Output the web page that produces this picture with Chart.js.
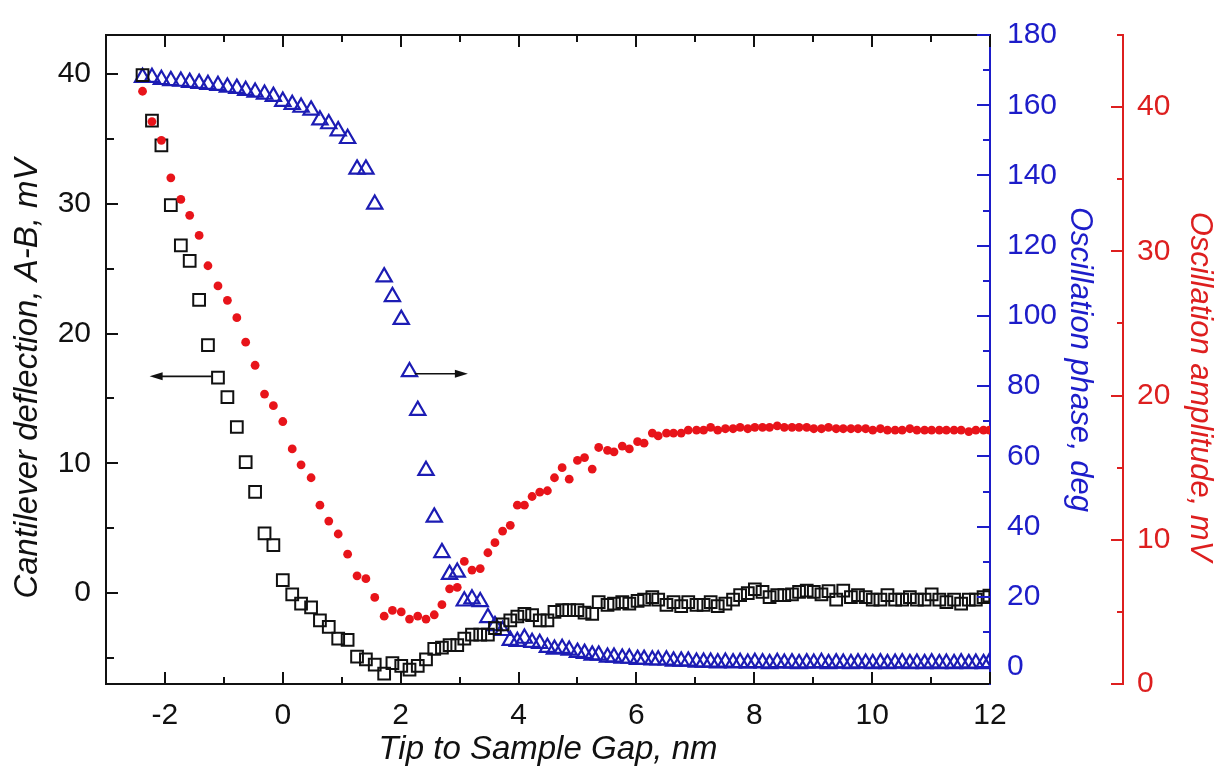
<!DOCTYPE html>
<html>
<head>
<meta charset="utf-8">
<title>Tip to sample gap</title>
<script src="https://cdn.jsdelivr.net/npm/chart.js@4.4.1/dist/chart.umd.min.js"></script>
<style>
  html, body { margin: 0; padding: 0; background: #fff; }
  #wrap { width: 1215px; height: 767px; }
</style>
</head>
<body>
<div id="wrap"><canvas id="afmChart" width="1215" height="767"></canvas></div>
<script>
// tip to sample gap, nm (shared by all three series)
const gap = [
  -2.38, -2.22, -2.06, -1.90, -1.73, -1.58, -1.42, -1.27, -1.10, -0.94,
  -0.78, -0.63, -0.47, -0.31, -0.16, 0.00, 0.16, 0.31, 0.48, 0.63,
  0.78, 0.94, 1.10, 1.26, 1.41, 1.56, 1.72, 1.86, 2.01, 2.15,
  2.29, 2.43, 2.57, 2.70, 2.83, 2.96, 3.08, 3.21, 3.35, 3.48,
  3.60, 3.73, 3.86, 3.98, 4.10, 4.23, 4.36, 4.49, 4.61, 4.74,
  4.86, 5.00, 5.12, 5.25, 5.36, 5.51, 5.62, 5.76, 5.88, 6.02,
  6.13, 6.27, 6.37, 6.51, 6.63, 6.76, 6.88, 7.02, 7.14, 7.26,
  7.38, 7.51, 7.64, 7.76, 7.89, 8.01, 8.14, 8.26, 8.39, 8.51,
  8.64, 8.76, 8.89, 9.01, 9.14, 9.26, 9.39, 9.51, 9.64, 9.76,
  9.89, 10.01, 10.14, 10.26, 10.39, 10.51, 10.64, 10.76, 10.89, 11.01,
  11.14, 11.26, 11.39, 11.51, 11.64, 11.76, 11.89, 11.99
];

// cantilever deflection A-B, mV (left axis)
const deflection = [
  39.9, 36.4, 34.5, 29.9, 26.8, 25.6, 22.6, 19.1, 16.6, 15.1,
  12.8, 10.1, 7.8, 4.6, 3.7, 1.0, -0.1, -0.8, -1.1, -2.1,
  -2.6, -3.5, -3.6, -4.9, -5.1, -5.5, -6.2, -5.4, -5.6, -5.9,
  -5.6, -5.1, -4.3, -4.2, -4.0, -4.0, -3.5, -3.2, -3.2, -3.2,
  -2.7, -2.4, -2.1, -1.8, -1.6, -1.7, -2.1, -2.1, -1.45, -1.3,
  -1.3, -1.3, -1.5, -1.6, -0.7, -0.9, -0.8, -0.7, -0.8, -0.6,
  -0.5, -0.3, -0.5, -0.9, -0.7, -1.0, -0.7, -0.9, -0.9, -0.7,
  -1.0, -0.8, -0.5, -0.15, 0.0, 0.3, 0.1, -0.3, -0.15, -0.15,
  -0.1, 0.1, 0.2, 0.1, -0.1, 0.15, -0.5, 0.2, -0.3, -0.15,
  -0.3, -0.5, -0.5, -0.15, -0.5, -0.5, -0.3, -0.5, -0.5, -0.1,
  -0.5, -0.7, -0.5, -0.8, -0.5, -0.5, -0.3, -0.2
];

// oscillation amplitude, mV (red axis)
const amplitude = [
  41.1, 39.0, 37.7, 35.1, 33.6, 32.5, 31.1, 29.0, 27.6, 26.6,
  25.4, 23.7, 22.1, 20.1, 19.3, 18.2, 16.3, 15.2, 14.3, 12.4,
  11.3, 10.4, 9.0, 7.5, 7.3, 6.0, 4.7, 5.1, 5.0, 4.5,
  4.7, 4.5, 4.8, 5.5, 6.6, 6.7, 8.5, 7.9, 8.0, 9.1,
  9.8, 10.6, 11.0, 12.4, 12.4, 13.0, 13.3, 13.4, 14.3, 15.0,
  14.2, 15.5, 15.7, 14.9, 16.4, 16.2, 16.1, 16.5, 16.3, 16.8,
  16.7, 17.4, 17.2, 17.4, 17.4, 17.4, 17.6, 17.6, 17.6, 17.8,
  17.6, 17.7, 17.7, 17.8, 17.7, 17.8, 17.8, 17.8, 17.9, 17.8,
  17.8, 17.8, 17.8, 17.7, 17.7, 17.8, 17.7, 17.7, 17.7, 17.7,
  17.7, 17.6, 17.7, 17.6, 17.6, 17.6, 17.7, 17.6, 17.6, 17.6,
  17.6, 17.6, 17.6, 17.6, 17.5, 17.6, 17.6, 17.6
];

// oscillation phase, deg (blue axis)
const phase = [
  167.9, 167.9, 167.3, 167.0, 166.8, 166.5, 166.2, 165.9, 165.6, 165.1,
  164.8, 164.2, 163.7, 163.1, 162.5, 161.1, 160.2, 159.4, 158.6, 155.8,
  154.7, 152.7, 150.5, 141.8, 141.8, 131.8, 111.1, 105.5, 99.0, 84.1,
  73.1, 56.0, 42.7, 32.6, 26.4, 27.0, 18.8, 19.4, 18.6, 14.1,
  11.8, 10.4, 7.6, 7.3, 8.2, 7.0, 6.7, 5.6, 5.1, 5.3,
  4.8, 4.2, 3.9, 3.4, 3.4, 2.8, 2.8, 2.5, 2.5, 2.2,
  2.2, 2.0, 2.0, 2.0, 1.7, 1.7, 1.7, 1.4, 1.4, 1.4,
  1.2, 1.4, 1.2, 1.3, 1.1, 1.3, 1.2, 1.0, 1.3, 1.1,
  1.2, 1.0, 1.2, 1.1, 1.3, 1.0, 1.2, 1.1, 1.0, 1.2,
  1.1, 1.0, 1.2, 1.0, 1.1, 1.2, 1.0, 1.1, 1.0, 1.2,
  1.0, 1.1, 1.0, 1.2, 1.0, 1.1, 1.0, 1.3
];

// tick labels
const xTicks = [-2, 0, 2, 4, 6, 8, 10, 12];
const deflTicks = [0, 10, 20, 30, 40];
const phaseTicks = [0, 20, 40, 60, 80, 100, 120, 140, 160, 180];
const ampTicks = [0, 10, 20, 30, 40];

// the two arrows telling which axis a curve belongs to (gap, deflection)
const arrowLines = [
  { from: [-1.21, 16.7], to: [-2.26, 16.7] },
  { from: [2.24, 16.9], to: [3.14, 16.9] }
];

const FONT = "'Liberation Sans', Arial, sans-serif";
const BLUE = "#1d1dc9";
const RED = "#dd1f1f";
const INK = "#111111";

const pts = (ys) => gap.map((x, i) => ({ x: x, y: ys[i] }));
const fixTicks = (list) => (scale) => { scale.ticks = list.map(v => ({ value: v })); };

// inward tick marks (major + minor), top frame line, arrows,
// and the two axis titles that sit a little below the axis middle
const tickMarks = {
  id: "tickMarks",
  afterDraw(chart) {
    const { ctx, chartArea: a, scales } = chart;
    ctx.save();
    ctx.lineWidth = 2;
    ctx.strokeStyle = INK;
    ctx.beginPath();
    ctx.moveTo(a.left, a.top);
    ctx.lineTo(a.right + 1, a.top);
    ctx.stroke();

    function marks(scale, list, color, draw) {
      const step = list[1] - list[0];
      const half = step / 2;
      ctx.strokeStyle = color;
      for (let v = Math.ceil(scale.min / half) * half; v <= scale.max + 1e-9; v += half) {
        const major = Math.abs(v / step - Math.round(v / step)) < 1e-6;
        const p = Math.round(scale.getPixelForValue(v));
        ctx.beginPath();
        draw(p, major);
        ctx.stroke();
      }
    }
    marks(scales.x, xTicks, INK, (p, major) => {
      const l = major ? 12 : 7;
      ctx.moveTo(p, a.bottom); ctx.lineTo(p, a.bottom - l);
      ctx.moveTo(p, a.top); ctx.lineTo(p, a.top + l);
    });
    marks(scales.y, deflTicks, INK, (p, major) => {
      ctx.moveTo(a.left, p); ctx.lineTo(a.left + (major ? 12 : 8), p);
    });
    marks(scales.yPhase, phaseTicks, BLUE, (p, major) => {
      ctx.moveTo(a.right, p); ctx.lineTo(a.right - (major ? 13 : 7), p);
    });
    const amp = scales.yAmp;
    marks(amp, ampTicks, RED, (p, major) => {
      ctx.moveTo(amp.left, p); ctx.lineTo(amp.left - (major ? 12 : 6), p);
    });

    // arrows
    ctx.strokeStyle = INK;
    ctx.fillStyle = INK;
    ctx.lineWidth = 1.6;
    arrowLines.forEach(ar => {
      const x1 = scales.x.getPixelForValue(ar.from[0]);
      const x2 = scales.x.getPixelForValue(ar.to[0]);
      const y1 = scales.y.getPixelForValue(ar.from[1]);
      const y2 = scales.y.getPixelForValue(ar.to[1]);
      const ang = Math.atan2(y2 - y1, x2 - x1);
      ctx.beginPath();
      ctx.moveTo(x1, y1);
      ctx.lineTo(x2 - 8 * Math.cos(ang), y2 - 8 * Math.sin(ang));
      ctx.stroke();
      ctx.beginPath();
      ctx.moveTo(x2, y2);
      ctx.lineTo(x2 - 13 * Math.cos(ang) + 4 * Math.sin(ang), y2 - 13 * Math.sin(ang) - 4 * Math.cos(ang));
      ctx.lineTo(x2 - 13 * Math.cos(ang) - 4 * Math.sin(ang), y2 - 13 * Math.sin(ang) + 4 * Math.cos(ang));
      ctx.closePath();
      ctx.fill();
    });

    // left and red axis titles
    const midY = (a.top + a.bottom) / 2;
    ctx.textAlign = "center";
    ctx.textBaseline = "middle";
    ctx.font = "italic 33px " + FONT;
    ctx.fillStyle = INK;
    ctx.save();
    ctx.translate(scales.y.left + 28, midY + 19);
    ctx.rotate(-Math.PI / 2);
    ctx.fillText("Cantilever deflection, A-B, mV", 0, 0);
    ctx.restore();
    ctx.font = "italic 31px " + FONT;
    ctx.fillStyle = RED;
    ctx.save();
    ctx.translate(amp.right - 15, midY + 27);
    ctx.rotate(Math.PI / 2);
    ctx.fillText("Oscillation amplitude, mV", 0, 0);
    ctx.restore();
    ctx.restore();
  }
};

const afmChart = new Chart(document.getElementById("afmChart"), {
  type: "scatter",
  data: {
    datasets: [
      {
        label: "Oscillation amplitude, mV",
        data: pts(amplitude),
        yAxisID: "yAmp",
        pointStyle: "circle",
        pointRadius: 4.4,
        pointBorderWidth: 0,
        backgroundColor: "#e8141a",
        borderColor: "#e8141a"
      },
      {
        label: "Cantilever deflection, A-B, mV",
        data: pts(deflection),
        yAxisID: "y",
        pointStyle: "rect",
        pointRadius: 8.3,
        pointBorderWidth: 2,
        backgroundColor: "rgba(0,0,0,0)",
        borderColor: INK
      },
      {
        label: "Oscillation phase, deg",
        data: pts(phase),
        yAxisID: "yPhase",
        pointStyle: "triangle",
        pointRadius: 8.8,
        pointBorderWidth: 2.2,
        backgroundColor: "rgba(0,0,0,0)",
        borderColor: "#1c1cb4"
      }
    ]
  },
  options: {
    responsive: false,
    animation: false,
    layout: { padding: { top: 27, left: 0, right: 0, bottom: 0 } },
    plugins: {
      legend: { display: false },
      tooltip: { enabled: false }
    },
    scales: {
      x: {
        type: "linear",
        position: "bottom",
        min: -3,
        max: 12,
        afterBuildTicks: fixTicks(xTicks),
        afterFit: (s) => { s.height = 83; },
        grid: { display: false, drawTicks: false },
        border: { display: true, color: INK, width: 2 },
        ticks: { color: INK, padding: 14, maxRotation: 0, autoSkip: false, font: { family: FONT, size: 30 } },
        title: {
          display: true,
          text: "Tip to Sample Gap, nm",
          color: INK,
          font: { family: FONT, size: 33, style: "italic", lineHeight: 1 },
          padding: { top: 0, bottom: 1 }
        }
      },
      y: {
        type: "linear",
        position: "left",
        min: -7,
        max: 43,
        afterBuildTicks: fixTicks(deflTicks),
        afterFit: (s) => { s.width = 106; },
        grid: { display: false, drawTicks: false },
        border: { display: true, color: INK, width: 2 },
        ticks: { color: INK, padding: 15, font: { family: FONT, size: 30 } },
        title: { display: false }
      },
      yPhase: {
        type: "linear",
        position: "right",
        min: -4.8,
        max: 180,
        afterBuildTicks: fixTicks(phaseTicks),
        afterFit: (s) => { s.width = 133; },
        grid: { display: false, drawTicks: false },
        border: { display: true, color: BLUE, width: 2 },
        ticks: { color: BLUE, padding: 17, font: { family: FONT, size: 30 } },
        title: {
          display: true,
          text: "Oscillation phase, deg",
          color: BLUE,
          font: { family: FONT, size: 31, style: "italic", lineHeight: 1 },
          padding: { top: 28, bottom: 0 }
        }
      },
      yAmp: {
        type: "linear",
        position: "right",
        min: 0,
        max: 45,
        afterBuildTicks: fixTicks(ampTicks),
        afterFit: (s) => { s.width = 92; },
        grid: { display: false, drawTicks: false },
        border: { display: true, color: RED, width: 2 },
        ticks: { color: RED, padding: 14, font: { family: FONT, size: 30 } },
        title: { display: false }
      }
    }
  },
  plugins: [tickMarks]
});
</script>
</body>
</html>
